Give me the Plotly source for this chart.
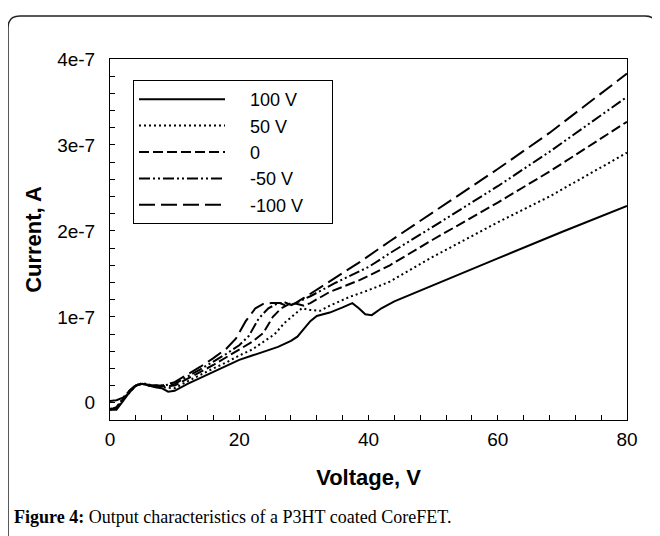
import plotly.graph_objects as go

# ---- data (Voltage V, Current in units of 1e-7 A) ----
v_100 = [0, 1, 2, 3, 4, 5, 6, 7, 8, 9, 10, 12, 14, 16, 18, 20, 22, 24, 26, 28, 29, 30, 31, 32, 34, 36, 37.5, 38.5, 39.5, 40.5, 42, 44, 50, 60, 70, 80]
i_100 = [-0.08, -0.08, 0.02, 0.12, 0.2, 0.22, 0.2, 0.18, 0.17, 0.13, 0.14, 0.22, 0.29, 0.36, 0.43, 0.5, 0.55, 0.6, 0.65, 0.72, 0.77, 0.86, 0.95, 1.01, 1.05, 1.11, 1.16, 1.1, 1.03, 1.02, 1.1, 1.18, 1.37, 1.68, 1.99, 2.29]

v_50 = [0, 1, 2, 3, 4, 5, 6, 8, 10, 12, 14, 16, 18, 20, 22, 24, 25.5, 27, 28.5, 29.7, 31, 32.5, 34, 37, 40, 43.3, 50, 60, 68, 80]
i_50 = [-0.07, -0.06, 0.03, 0.12, 0.2, 0.23, 0.21, 0.18, 0.17, 0.25, 0.33, 0.4, 0.47, 0.55, 0.62, 0.72, 0.8, 0.93, 1.03, 1.1, 1.08, 1.07, 1.13, 1.23, 1.31, 1.41, 1.7, 2.1, 2.4, 2.91]

v_0 = [0, 1, 2, 3, 4, 5, 6, 8, 10, 12, 14, 16, 18, 20, 22, 23.7, 25.2, 26.5, 28, 29, 30, 31, 34, 38.7, 43.3, 50, 60, 68, 80]
i_0 = [-0.08, -0.06, 0.04, 0.13, 0.2, 0.22, 0.21, 0.19, 0.2, 0.28, 0.36, 0.44, 0.53, 0.62, 0.71, 0.81, 1.0, 1.1, 1.16, 1.15, 1.13, 1.16, 1.29, 1.43, 1.6, 1.9, 2.33, 2.69, 3.27]

v_m50 = [0, 1, 2, 3, 4, 5, 6, 8, 10, 12, 14, 16, 18, 20, 21.5, 23, 24.5, 25.8, 27, 28, 29, 31, 35, 40, 43.3, 50, 60, 68, 80]
i_m50 = [-0.08, -0.05, 0.05, 0.14, 0.21, 0.22, 0.2, 0.2, 0.22, 0.3, 0.39, 0.48, 0.57, 0.67, 0.78, 0.98, 1.1, 1.15, 1.17, 1.14, 1.17, 1.24, 1.4, 1.58, 1.74, 2.05, 2.52, 2.92, 3.56]

v_m100 = [0, 1, 2, 3, 4, 5, 6, 8, 10, 12, 14, 16, 18, 19.5, 21, 22.5, 23.7, 25, 26.3, 27.5, 28.5, 30, 32.5, 38.7, 43.3, 50, 60, 68, 80]
i_m100 = [0.02, 0.03, 0.06, 0.14, 0.2, 0.22, 0.2, 0.2, 0.24, 0.33, 0.42, 0.52, 0.63, 0.75, 0.95, 1.1, 1.15, 1.16, 1.16, 1.12, 1.15, 1.22, 1.34, 1.64, 1.88, 2.22, 2.72, 3.14, 3.83]

series_names = ["100 V", "50 V", "0", "-50 V", "-100 V"]
y_tickvals = [0, 1e-7, 2e-7, 3e-7, 4e-7]
y_ticktext = ["0", "1e-7", "2e-7", "3e-7", "4e-7"]
x_tickvals = [0, 20, 40, 60, 80]

series = [
    (v_100, i_100, "solid"),
    (v_50, i_50, "2px,3px"),
    (v_0, i_0, "10px,4px"),
    (v_m50, i_m50, "11px,3px,2px,3px,2px,3px"),
    (v_m100, i_m100, "16px,6px"),
]

NB = "\u00a0" * 4
TAIL = "\u2003\u00a0"
fig = go.Figure()
for name, (vx, iy, dash) in zip(series_names, series):
    fig.add_trace(go.Scatter(
        x=vx, y=[val * 1e-7 for val in iy], mode="lines", name=NB + name + TAIL,
        line=dict(color="black", width=2, dash=dash),
    ))

# page has an 8px body margin; figure positions below are given in page pixels
OFF = 8
W, H = 652, 528
L_page, T_page = 110, 59
pw, ph = 517, 361
L, T = L_page - OFF, T_page - OFF
R, B = W - L - pw, H - T - ph

def xp(px):
    return (px - L_page) / pw

def yp(py):
    return 1 - (py - T_page) / ph

# rounded outer frame
xl, xr, yt, yb = xp(8), xp(657), yp(16), yp(580)
rx, ry = 12 / pw, 12 / ph
frame_path = (f"M {xl},{yb} L {xl},{yt - ry} Q {xl},{yt} {xl + rx},{yt} "
              f"L {xr - rx},{yt} Q {xr},{yt} {xr},{yt - ry} L {xr},{yb}")

fig.update_layout(
    width=W, height=H,
    margin=dict(l=L, r=R, t=T, b=B),
    paper_bgcolor="white", plot_bgcolor="white",
    font=dict(family="Liberation Sans, Arial, sans-serif", color="black", size=19),
    showlegend=True,
    legend=dict(
        x=xp(133), y=yp(80), xanchor="left", yanchor="top",
        bordercolor="black", borderwidth=1, bgcolor="white",
        font=dict(size=18), itemwidth=86, tracegroupgap=0,
    ),
    shapes=[dict(type="path", xref="paper", yref="paper", path=frame_path,
                 line=dict(color="#222", width=1.5))],
    annotations=[dict(
        xref="paper", yref="paper", x=xp(12), y=yp(517), xanchor="left", yanchor="middle",
        showarrow=False,
        text="<b>Figure 4:</b> Output characteristics of a P3HT coated CoreFET.",
        font=dict(family="Liberation Serif, Times New Roman, serif", size=18, color="black"),
    )],
)

fig.update_xaxes(
    range=[0, 80], tickvals=x_tickvals, ticks="inside", ticklen=5, tickcolor="black",
    showline=True, linecolor="black", linewidth=1, mirror=True, showgrid=False, zeroline=False,
    minor=dict(dtick=4, ticks="inside", ticklen=5, tickcolor="black", showgrid=False),
    title=dict(text="<b>Voltage, V</b>", font=dict(size=22), standoff=20),
    tickfont=dict(size=19), ticklabelstandoff=2,
)
fig.update_yaxes(
    range=[-2e-8, 4e-7], tickvals=y_tickvals, ticktext=y_ticktext, ticks="inside", ticklen=5,
    tickcolor="black",
    showline=True, linecolor="black", linewidth=1, mirror=True, showgrid=False, zeroline=False,
    minor=dict(dtick=2e-8, tick0=0, ticks="inside", ticklen=5, tickcolor="black", showgrid=False),
    title=dict(text="<b>Current, A</b>", font=dict(size=22), standoff=9),
    tickfont=dict(size=19), ticklabelstandoff=10,
)

fig.write_html("out.html")
